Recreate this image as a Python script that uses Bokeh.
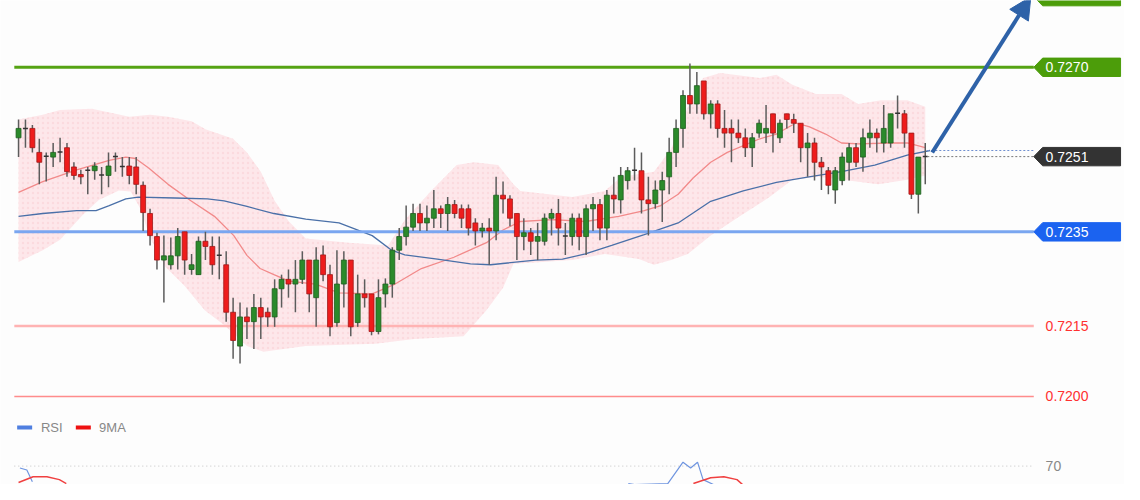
import numpy as np
from bokeh.plotting import figure
from bokeh.models import Range1d, Arrow, NormalHead
from bokeh.core.properties import value
from bokeh.embed import file_html
from bokeh.resources import INLINE

# ---------------- data ----------------
opens = [0.72550,0.72568,0.72570,0.72519,0.72509,0.72509,0.72519,0.72529,0.72488,0.72472,
         0.72480,0.72480,0.72470,0.72470,0.72509,0.72488,0.72490,0.72488,0.72449,0.72389,
         0.72340,0.72290,0.72280,0.72299,0.72350,0.72270,0.72259,0.72330,0.72319,0.72299,
         0.72280,0.72179,0.72107,0.72169,0.72159,0.72189,0.72179,0.72169,0.72229,0.72249,
         0.72239,0.72249,0.72290,0.72210,0.72301,0.72259,0.72157,0.72239,0.72290,0.72157,
         0.72218,0.72218,0.72138,0.72218,0.72239,0.72311,0.72340,0.72360,0.72389,0.72369,
         0.72379,0.72399,0.72389,0.72408,0.72399,0.72399,0.72369,0.72352,0.72358,0.72352,
         0.72428,0.72420,0.72389,0.72340,0.72348,0.72330,0.72330,0.72379,0.72389,0.72340,
         0.72340,0.72379,0.72340,0.72399,0.72408,0.72358,0.72428,0.72418,0.72459,0.72480,
         0.72480,0.72418,0.72410,0.72439,0.72467,0.72519,0.72570,0.72640,0.72622,0.72671,
         0.72601,0.72622,0.72570,0.72570,0.72560,0.72550,0.72529,0.72560,0.72560,0.72601,
         0.72550,0.72601,0.72589,0.72581,0.72529,0.72539,0.72498,0.72480,0.72439,0.72459,
         0.72498,0.72529,0.72509,0.72550,0.72560,0.72539,0.72539,0.72601,0.72601,0.72560,
         0.72430,0.72509]
highs = [0.72589,0.72589,0.72577,0.72548,0.72519,0.72539,0.72550,0.72539,0.72498,0.72482,
         0.72488,0.72498,0.72488,0.72519,0.72519,0.72509,0.72509,0.72509,0.72457,0.72399,
         0.72348,0.72342,0.72338,0.72358,0.72350,0.72303,0.72340,0.72350,0.72340,0.72340,
         0.72309,0.72210,0.72200,0.72189,0.72218,0.72210,0.72189,0.72249,0.72259,0.72270,
         0.72290,0.72309,0.72290,0.72317,0.72321,0.72280,0.72311,0.72309,0.72290,0.72259,
         0.72249,0.72218,0.72249,0.72251,0.72317,0.72358,0.72406,0.72410,0.72410,0.72406,
         0.72439,0.72406,0.72424,0.72418,0.72408,0.72408,0.72379,0.72369,0.72379,0.72467,
         0.72457,0.72428,0.72389,0.72379,0.72358,0.72369,0.72389,0.72399,0.72420,0.72369,
         0.72389,0.72389,0.72408,0.72424,0.72420,0.72439,0.72467,0.72488,0.72488,0.72529,
         0.72519,0.72467,0.72459,0.72478,0.72550,0.72589,0.72651,0.72708,0.72690,0.72671,
         0.72630,0.72630,0.72609,0.72589,0.72589,0.72570,0.72560,0.72589,0.72620,0.72601,
         0.72589,0.72601,0.72601,0.72581,0.72560,0.72550,0.72509,0.72488,0.72488,0.72519,
         0.72539,0.72539,0.72570,0.72589,0.72570,0.72620,0.72601,0.72640,0.72609,0.72560,
         0.72509,0.72539]
lows = [0.72509,0.72529,0.72519,0.72451,0.72457,0.72488,0.72498,0.72467,0.72461,0.72451,
        0.72430,0.72461,0.72430,0.72445,0.72478,0.72467,0.72451,0.72430,0.72352,0.72321,
        0.72270,0.72200,0.72270,0.72270,0.72259,0.72259,0.72259,0.72290,0.72259,0.72249,
        0.72159,0.72080,0.72070,0.72122,0.72101,0.72122,0.72148,0.72148,0.72189,0.72210,
        0.72179,0.72239,0.72179,0.72148,0.72245,0.72128,0.72148,0.72189,0.72128,0.72148,
        0.72189,0.72130,0.72132,0.72189,0.72210,0.72290,0.72321,0.72352,0.72352,0.72352,
        0.72358,0.72358,0.72352,0.72379,0.72358,0.72342,0.72321,0.72338,0.72280,0.72332,
        0.72389,0.72362,0.72290,0.72311,0.72301,0.72290,0.72321,0.72342,0.72321,0.72301,
        0.72321,0.72311,0.72301,0.72352,0.72332,0.72332,0.72389,0.72389,0.72440,0.72459,
        0.72389,0.72342,0.72399,0.72371,0.72430,0.72488,0.72529,0.72601,0.72601,0.72589,
        0.72570,0.72550,0.72529,0.72498,0.72539,0.72509,0.72488,0.72550,0.72539,0.72519,
        0.72539,0.72570,0.72560,0.72498,0.72467,0.72459,0.72439,0.72430,0.72410,0.72449,
        0.72459,0.72488,0.72478,0.72529,0.72519,0.72519,0.72529,0.72570,0.72529,0.72420,
        0.72389,0.72451]
closes = [0.72570,0.72570,0.72529,0.72498,0.72511,0.72519,0.72520,0.72478,0.72470,0.72467,
          0.72481,0.72490,0.72471,0.72490,0.72510,0.72489,0.72470,0.72451,0.72391,0.72342,
          0.72290,0.72299,0.72299,0.72340,0.72290,0.72280,0.72330,0.72319,0.72280,0.72300,
          0.72179,0.72119,0.72169,0.72159,0.72189,0.72169,0.72169,0.72229,0.72249,0.72239,
          0.72249,0.72290,0.72218,0.72290,0.72259,0.72148,0.72239,0.72290,0.72148,0.72218,
          0.72210,0.72138,0.72210,0.72239,0.72311,0.72340,0.72360,0.72389,0.72369,0.72379,
          0.72399,0.72389,0.72408,0.72389,0.72379,0.72358,0.72352,0.72358,0.72352,0.72428,
          0.72420,0.72379,0.72340,0.72348,0.72330,0.72340,0.72379,0.72389,0.72358,0.72341,
          0.72379,0.72340,0.72399,0.72408,0.72358,0.72428,0.72420,0.72470,0.72480,0.72481,
          0.72418,0.72410,0.72439,0.72459,0.72519,0.72570,0.72640,0.72622,0.72661,0.72601,
          0.72622,0.72570,0.72560,0.72560,0.72550,0.72529,0.72550,0.72581,0.72570,0.72560,
          0.72581,0.72589,0.72581,0.72529,0.72539,0.72498,0.72488,0.72449,0.72480,0.72509,
          0.72529,0.72498,0.72550,0.72560,0.72550,0.72570,0.72601,0.72602,0.72560,0.72430,
          0.72509,0.72510]

band_up_idx = [0,3.5,6,10.6,16,19,21.6,25,27,31,33,35,37,39,41.5,47.7,53.4,55.8,59.6,63.3,
               65.8,69.3,71.5,72.5,80,84.7,87.1,91.8,94.3,96.7,98.9,101.4,107.1,109.5,111.8,
               115.2,118.9,121.3,124.6,128.4,131]
band_up = [0.72589,0.72599,0.72609,0.72612,0.72595,0.72599,0.72595,0.72585,0.72568,0.72548,
           0.72519,0.72478,0.72416,0.72373,0.72336,0.72327,0.72321,0.72375,0.72437,0.72492,
           0.72498,0.72492,0.72451,0.72437,0.72424,0.72437,0.72467,0.72478,0.72527,0.72616,
           0.72677,0.72688,0.72677,0.72684,0.72663,0.72643,0.72643,0.72622,0.72630,0.72630,
           0.72616]
band_lo_idx = [0,3.5,6,9.2,11.6,14.5,16.2,17.6,19,21.2,24,26.9,29.7,33,35.4,38.3,41.5,51.5,
               57.2,64.3,67.6,70,71.5,75.7,80,84.7,89.6,91.8,94.3,96.7,100,104.2,108.5,111.8,
               115.6,119.9,124.2,128.4,131]
band_lo = [0.72286,0.72311,0.72333,0.72385,0.72418,0.72438,0.72436,0.72399,0.72338,0.72276,
           0.72235,0.72183,0.72152,0.72107,0.72095,0.72101,0.72107,0.72112,0.72122,0.72128,
           0.72183,0.72231,0.72282,0.72286,0.72290,0.72303,0.72292,0.72280,0.72290,0.72303,
           0.72342,0.72383,0.72424,0.72461,0.72467,0.72459,0.72451,0.72461,0.72470]

ma_fast_idx = [0,3.5,8.4,13.1,15.5,16.9,18.8,21.6,24.9,28.3,31.1,33,34.9,36.9,39.1,42.9,46.3,
               51.1,54.4,58.2,62.9,67.6,70,72.5,77.2,81.9,86.7,90.4,92.8,95.3,97.5,100,102.4,
               107.1,109.5,111.4,112.3,114.2,116.6,118.9,121.3,126,128.4,131]
ma_fast = [0.72434,0.72457,0.72482,0.72502,0.72509,0.72506,0.72486,0.72451,0.72416,0.72383,
           0.72342,0.72300,0.72272,0.72259,0.72245,0.72239,0.72220,0.72218,0.72239,0.72272,
           0.72296,0.72327,0.72354,0.72372,0.72376,0.72372,0.72383,0.72395,0.72406,0.72430,
           0.72465,0.72498,0.72519,0.72548,0.72558,0.72574,0.72581,0.72574,0.72558,0.72539,
           0.72537,0.72539,0.72539,0.72529]
ma_slow_idx = [0,3.5,8.4,11.2,13.1,15.5,17.3,22.6,27.3,29.7,33,36.9,41.5,46.3,51.1,53.9,55.8,
               60.5,65.3,68.2,74.7,78.6,81.9,85.7,90.4,95.3,100,104.7,109.5,114.2,118.9,123.7,
               128.4,131.7]
ma_slow = [0.72383,0.72389,0.72395,0.72395,0.72406,0.72420,0.72424,0.72422,0.72420,0.72416,
           0.72404,0.72389,0.72377,0.72369,0.72342,0.72311,0.72301,0.72292,0.72282,0.72280,
           0.72290,0.72292,0.72303,0.72321,0.72344,0.72369,0.72415,0.72437,0.72455,0.72467,
           0.72478,0.72492,0.72513,0.72523]

rsi_a_idx = [0.2, 1.2, 2.0]
rsi_a = [68.7, 67.3, 59.3]
ma9_a_idx = [0.0, 2.1, 4.1, 5.9, 6.9]
ma9_a = [58.7, 62.7, 62.7, 60.7, 58.0]
rsi_b_idx = [88.1, 89.0, 93.8, 96.0, 97.1, 98.1, 98.9, 100.4]
rsi_b = [58.0, 57.3, 58.0, 72.7, 68.7, 72.7, 60.7, 57.3]
ma9_b_idx = [97.5, 100.0, 101.9, 103.8, 104.6]
ma9_b = [58.0, 62.0, 62.7, 60.7, 57.3]

resist_level = 0.7270
support_level = 0.7235
last_price = 0.7251
red_levels = [0.7215, 0.7200]
red_labels = ["0.7215", "0.7200"]
rsi_level = 70

# ---------------- layout helpers (pixels of the reference -> data) ----------------
X0, DX = 18.3, 7.02          # first candle pixel, candle spacing
PPU = 48571.0                # pixels per price unit
P_TOP = 0.7270 + 69 / PPU    # price at pixel row 0
RSI_PX = 1.5                 # pixels per RSI point
W, H = 1124, 484

def sx(px):
    return (px - X0) / DX

def sy(py):
    return P_TOP - py / PPU

def srsi(py):
    return rsi_level - (py - 481) / RSI_PX

FONT = value("Liberation Sans")

p = figure(width=W, height=H,
           x_range=Range1d(sx(0), sx(1140)), y_range=Range1d(sy(500), sy(0)),
           output_backend="svg", toolbar_location=None, min_border=0,
           x_axis_location=None, y_axis_location=None,
           background_fill_color="#fdfdfd", border_fill_color="#fdfdfd",
           outline_line_color=None)
p.grid.visible = False
p.extra_y_ranges = {"rsi": Range1d(srsi(500), srsi(0))}

# Bollinger band
p.patch(band_up_idx + band_lo_idx[::-1], band_up + band_lo[::-1],
        fill_color="#fde7ea", line_color=None,
        hatch_pattern="dot", hatch_color="#f7c3c9", hatch_scale=5, hatch_weight=0.6,
        hatch_alpha=0.35)

# moving averages
p.line(ma_fast_idx, ma_fast, line_color="#f28a8a", line_width=1.3)
p.line(ma_slow_idx, ma_slow, line_color="#4a70a8", line_width=1.3)

# horizontal levels
x_left, x_right = sx(14), sx(1048)
p.segment(x_left, resist_level, x_right, resist_level, line_color="#55a313", line_width=3)
p.segment(x_left, support_level, x_right, support_level, line_color="#7aa6f0", line_width=3)
p.segment(x_left, red_levels[0], x_right, red_levels[0], line_color="#ffb3b3", line_width=2.5)
p.segment(x_left, red_levels[1], x_right, red_levels[1], line_color="#ff8c8c", line_width=1.5)

# candles
idx = np.arange(len(opens))
o = np.array(opens); c = np.array(closes)
top = np.maximum(o, c); bot = np.minimum(o, c)
doji = np.abs(c - o) < 0.00003
up = (c >= o) & ~doji
dn = (c < o) & ~doji
p.segment(idx, np.array(highs), idx, np.array(lows), line_color="#5c5c5c", line_width=1.5)
bw = 5 / DX
p.vbar(idx[up], bw, top[up], bot[up], fill_color="#2b8a2b", line_color="#1e5e1e", line_width=0.8)
p.vbar(idx[dn], bw, top[dn], bot[dn], fill_color="#ee1c1c", line_color="#a01818", line_width=0.8)
p.segment(idx[doji] - bw / 2, c[doji], idx[doji] + bw / 2, c[doji], line_color="#333333", line_width=1.5)

# last price dotted lines
p.segment(sx(940), ma_slow[-1], sx(1048), ma_slow[-1], line_color="#6f8fd0", line_width=1, line_dash="2 2")
p.segment(sx(940), last_price, sx(1048), last_price, line_color="#777777", line_width=1, line_dash="2 2")

# price tags
def tag(level, color, text):
    h = 9.5 / PPU
    xs = [sx(1048), sx(1057), sx(1136), sx(1136), sx(1057)]
    ys = [level, level + h, level + h, level - h, level - h]
    p.patch(xs, ys, fill_color=color, line_color=color)
    if text:
        p.text([sx(1060)], [level], text=[text], text_color="white", text_font=FONT,
               text_font_size="14px", text_baseline="middle", text_align="left")

tag(sy(-4), "#4c9d0a", "")
tag(resist_level, "#4c9d0a", "0.7270")
tag(last_price, "#333333", "0.7251")
tag(support_level, "#1b63f0", "0.7235")

p.text([sx(1060)] * 2, red_levels, text=red_labels, text_color="#ff3030", text_font=FONT,
       text_font_size="14px", text_baseline="middle", text_align="left")

# arrow
p.add_layout(Arrow(end=NormalHead(size=22, fill_color="#2e62a8", line_color="#2e62a8"),
                   x_start=sx(945), y_start=sy(157), x_end=sx(1045), y_end=sy(-4),
                   line_color="#2e62a8", line_width=4))

# RSI panel (partly visible)
p.segment(x_left, rsi_level, x_right, rsi_level, y_range_name="rsi",
          line_color="#c4c4c4", line_width=1, line_dash="1 3")
p.text([sx(1060)], [rsi_level], text=["70"], y_range_name="rsi", text_color="#888888",
       text_font=FONT, text_font_size="14px", text_baseline="middle")
p.line(rsi_a_idx, rsi_a, y_range_name="rsi", line_color="#6f95e0", line_width=1.2)
p.line(rsi_b_idx, rsi_b, y_range_name="rsi", line_color="#6f95e0", line_width=1.2)
p.line(ma9_a_idx, ma9_a, y_range_name="rsi", line_color="#f04040", line_width=1.5)
p.line(ma9_b_idx, ma9_b, y_range_name="rsi", line_color="#f04040", line_width=1.5)

# legend
ly = sy(441)
p.rect([sx(24.5)], [ly], width=15, height=4, width_units="screen", height_units="screen",
       fill_color="#4f7fe0", line_color=None)
p.rect([sx(84)], [ly], width=15, height=4, width_units="screen", height_units="screen",
       fill_color="#ee1111", line_color=None)
p.text([sx(41), sx(100)], [ly, ly], text=["RSI", "9MA"], text_color="#888888", text_font=FONT,
       text_font_size="13px", text_baseline="middle")

open("out.html", "w").write(file_html(p, INLINE))
